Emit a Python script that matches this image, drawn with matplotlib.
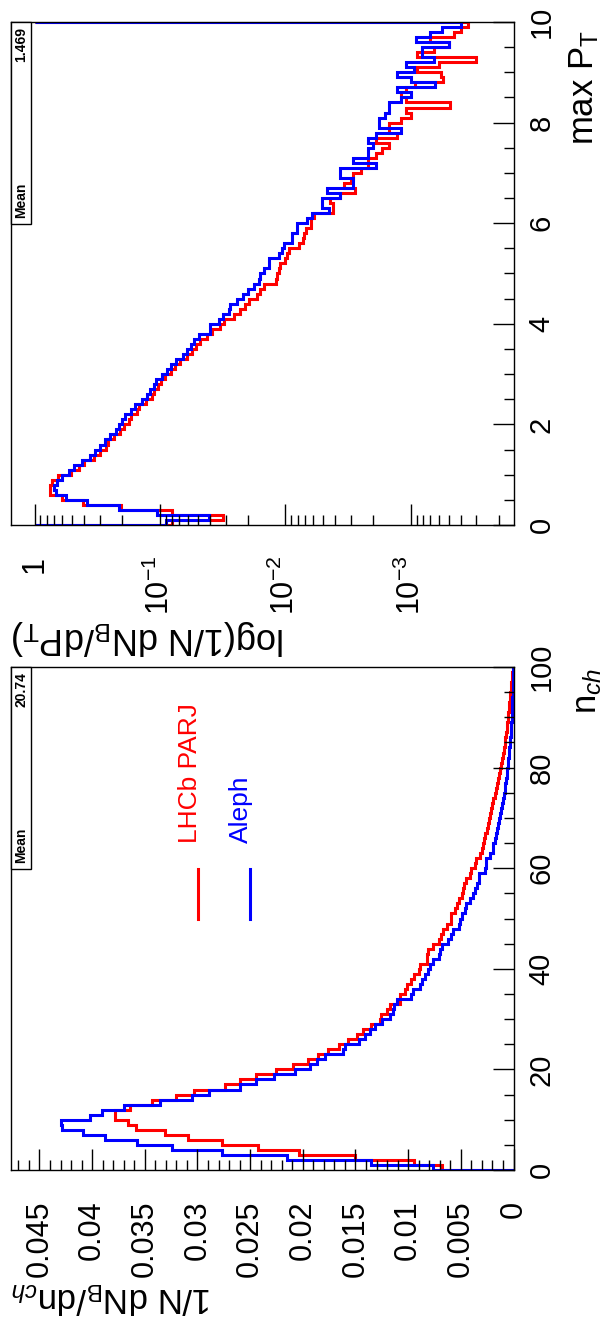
import numpy as np
import matplotlib.pyplot as plt
from matplotlib.patches import Rectangle
from matplotlib.ticker import FixedLocator, MultipleLocator, LogLocator, NullFormatter

plt.rcParams['font.family'] = ['Liberation Sans', 'DejaVu Sans']
plt.rcParams['mathtext.fontset'] = 'custom'
plt.rcParams['mathtext.rm'] = 'Liberation Sans'
plt.rcParams['mathtext.it'] = 'Liberation Sans:italic'

# charged multiplicity, bins of width 1 from 0 to 100
nch_edges = np.arange(0, 101)
nch_lhcb = [0.0068, 0.0094, 0.0150, 0.0204, 0.0243, 0.0277, 0.0309, 0.0331, 0.0358, 0.0366,
            0.0378, 0.0378, 0.0364, 0.0343, 0.0320, 0.0303, 0.0274, 0.0260, 0.0244, 0.0225,
            0.0209, 0.0195, 0.0186, 0.0176, 0.0166, 0.0157, 0.0149, 0.0143, 0.0135, 0.0127,
            0.0126, 0.0120, 0.0117, 0.0108, 0.0108, 0.0103, 0.0101, 0.0097, 0.0094, 0.0090,
            0.0089, 0.0082, 0.0082, 0.0081, 0.0076, 0.0071, 0.0069, 0.0067, 0.0063, 0.0059,
            0.0059, 0.0056, 0.0054, 0.0052, 0.0049, 0.0048, 0.0047, 0.0045, 0.0041, 0.0040,
            0.0037, 0.0036, 0.0032, 0.0030, 0.0029, 0.0028, 0.0027, 0.0025, 0.0024, 0.0023,
            0.0022, 0.0021, 0.0020, 0.0019, 0.0018, 0.0017, 0.0016, 0.0015, 0.0014, 0.0013,
            0.0012, 0.0011, 0.0010, 0.0009, 0.00085, 0.0008, 0.0007, 0.00065, 0.0006, 0.00055,
            0.0005, 0.00045, 0.0004, 0.00035, 0.0003, 0.00025, 0.0002, 0.00015, 0.0001, 0.00008]
nch_aleph = [0.0076, 0.0135, 0.0215, 0.0277, 0.0324, 0.0357, 0.0388, 0.0409, 0.0429, 0.0430,
             0.0402, 0.0391, 0.0370, 0.0336, 0.0305, 0.0289, 0.0260, 0.0244, 0.0227, 0.0207,
             0.0193, 0.0187, 0.0179, 0.0162, 0.0160, 0.0147, 0.0141, 0.0136, 0.0131, 0.0125,
             0.0117, 0.0114, 0.0113, 0.0111, 0.0097, 0.0095, 0.0089, 0.0087, 0.0084, 0.0081,
             0.0079, 0.0076, 0.0071, 0.0070, 0.0068, 0.0062, 0.0059, 0.0057, 0.0052, 0.0051,
             0.0049, 0.0046, 0.0045, 0.0041, 0.0038, 0.0037, 0.0035, 0.0033, 0.0033, 0.0027,
             0.0026, 0.0026, 0.0022, 0.0019, 0.0019, 0.0018, 0.0017, 0.0016, 0.0015, 0.0014,
             0.0013, 0.0012, 0.0011, 0.0010, 0.0009, 0.00085, 0.0008, 0.0007, 0.00065, 0.0006,
             0.00055, 0.0005, 0.00045, 0.0004, 0.00035, 0.0003, 0.00028, 0.00025, 0.0002, 0.00018,
             0.00015, 0.00013, 0.00011, 0.0001, 0.00008, 0.00007, 0.00006, 0.00005, 0.00004, 0.00003]

# max pT, bins of width 0.1 from 0 to 10
pt_edges = np.linspace(0, 10, 101)
pt_lhcb = [0.080, 0.0314, 0.080, 0.204, 0.409, 0.602, 0.746, 0.759, 0.723, 0.652,
           0.510, 0.443, 0.400, 0.337, 0.302, 0.267, 0.261, 0.231, 0.209, 0.192,
           0.177, 0.170, 0.152, 0.147, 0.129, 0.115, 0.111, 0.104, 0.098, 0.0904,
           0.0824, 0.0753, 0.0687, 0.0608, 0.0554, 0.0512, 0.0476, 0.0421, 0.0384, 0.0330,
           0.0306, 0.0258, 0.0231, 0.0211, 0.0196, 0.0170, 0.0158, 0.0149, 0.0118, 0.0116,
           0.0113, 0.0110, 0.0100, 0.0098, 0.0094, 0.0078, 0.0073, 0.0071, 0.0069, 0.0063,
           0.0062, 0.0059, 0.0042, 0.0042, 0.0044, 0.0037, 0.0028, 0.0034, 0.0030, 0.0029,
           0.0025, 0.0022, 0.0022, 0.0019, 0.0017, 0.0015, 0.0019, 0.0013, 0.0015, 0.0015,
           0.0012, 0.0010, 0.0011, 0.00049, 0.0011, 0.0012, 0.0011, 0.00092, 0.00055, 0.00058,
           0.00089, 0.0006, 0.0003, 0.00089, 0.00066, 0.0005, 0.00071, 0.00045, 0.0004, 0.00035]
pt_aleph = [0.089, 0.041, 0.105, 0.213, 0.385, 0.560, 0.680, 0.700, 0.668, 0.609,
            0.533, 0.486, 0.417, 0.362, 0.327, 0.298, 0.272, 0.248, 0.226, 0.213,
            0.200, 0.191, 0.170, 0.157, 0.139, 0.126, 0.121, 0.111, 0.107, 0.096,
            0.0877, 0.0824, 0.0743, 0.0653, 0.0608, 0.0561, 0.0531, 0.0491, 0.0396, 0.0396,
            0.0340, 0.0314, 0.0283, 0.0278, 0.0243, 0.0217, 0.0200, 0.0179, 0.0163, 0.0158,
            0.0149, 0.0136, 0.0136, 0.0113, 0.0106, 0.0103, 0.0089, 0.0089, 0.0081, 0.0081,
            0.0067, 0.0061, 0.0045, 0.0051, 0.0051, 0.0037, 0.0047, 0.0029, 0.0029, 0.0037,
            0.0037, 0.0019, 0.0029, 0.0022, 0.0022, 0.0020, 0.0022, 0.0019, 0.0012, 0.0018,
            0.0018, 0.0016, 0.0015, 0.0015, 0.0012, 0.0010, 0.0013, 0.00064, 0.0010, 0.0013,
            0.00094, 0.0011, 0.00066, 0.00081, 0.00081, 0.0005, 0.00091, 0.00071, 0.00056, 0.0004]

val_ticks = [0, 0.005, 0.01, 0.015, 0.02, 0.025, 0.03, 0.035, 0.04, 0.045]
val_labels = ['0', '0.005', '0.01', '0.015', '0.02', '0.025', '0.03', '0.035', '0.04', '0.045']
log_ticks = [1, 0.1, 0.01, 0.001]
log_labels = ['1', r'$10^{-1}$', r'$10^{-2}$', r'$10^{-3}$']

W, H = 608, 1323
fig = plt.figure(figsize=(W / 100, H / 100), dpi=100)


def px_axes(x0, y0, x1, y1):
    return fig.add_axes([x0 / W, 1 - y1 / H, (x1 - x0) / W, (y1 - y0) / H])


def style(ax):
    # the picture is a ROOT canvas turned on its side: values run right-to-left
    ax.xaxis.tick_bottom()
    ax.yaxis.tick_right()
    ax.tick_params(which='both', direction='in', color='black', width=1)
    ax.tick_params(which='major', length=15)
    ax.tick_params(which='minor', length=7.5)
    ax.tick_params(axis='x', labelsize=22, pad=22, labelrotation=90)
    ax.tick_params(axis='y', labelsize=21, pad=10, labelrotation=90)
    for lab in ax.get_yticklabels():
        lab.set_va('center')
    for sp in ax.spines.values():
        sp.set_linewidth(1)


def stats_box(y0, value):
    fig.add_artist(Rectangle((11 / W, 1 - (y0 + 202) / H), 20 / W, 202 / H,
                             transform=fig.transFigure, facecolor='white',
                             edgecolor='black', lw=1, zorder=5))
    fig.text(21 / W, 1 - (y0 + 196) / H, 'Mean', rotation=90, ha='center', va='bottom',
             fontsize=10, fontweight='bold', zorder=6)
    fig.text(21 / W, 1 - (y0 + 5) / H, value, rotation=90, ha='center', va='top',
             fontsize=10, fontweight='bold', zorder=6)


# ---- max pT panel (top) ----
ax_pt = px_axes(11, 22, 513.5, 525)
ax_pt.stairs(pt_lhcb, pt_edges, orientation='horizontal', baseline=1, color='red', lw=2.2)
ax_pt.stairs(pt_aleph, pt_edges, orientation='horizontal', baseline=1, color='blue', lw=2.2)
ax_pt.set_xscale('log')
ax_pt.set_xlim(1.54, 1.52e-4)
ax_pt.set_ylim(0, 10)
ax_pt.xaxis.set_major_locator(FixedLocator(log_ticks))
ax_pt.set_xticklabels(log_labels)
ax_pt.xaxis.set_minor_locator(LogLocator(base=10, subs=np.arange(2, 10)))
ax_pt.xaxis.set_minor_formatter(NullFormatter())
ax_pt.set_yticks([0, 2, 4, 6, 8, 10])
ax_pt.set_yticklabels(['0', '2', '4', '6', '8', '10'])
ax_pt.yaxis.set_minor_locator(MultipleLocator(0.5))
style(ax_pt)

# ---- n_ch panel (bottom) ----
ax_n = px_axes(11, 667, 513.5, 1170)
ax_n.stairs(nch_lhcb, nch_edges, orientation='horizontal', color='red', lw=2.2)
ax_n.stairs(nch_aleph, nch_edges, orientation='horizontal', color='blue', lw=2.2)
ax_n.set_xlim(0.0477, 0)
ax_n.set_ylim(0, 100)
ax_n.set_xticks(val_ticks)
ax_n.set_xticklabels(val_labels)
ax_n.xaxis.set_minor_locator(MultipleLocator(0.001))
ax_n.set_yticks([0, 20, 40, 60, 80, 100])
ax_n.set_yticklabels(['0', '20', '40', '60', '80', '100'])
ax_n.yaxis.set_minor_locator(MultipleLocator(5))
style(ax_n)

stats_box(22, '1.469')
stats_box(667, '20.74')

# legend
fig.add_artist(plt.Line2D([198 / W, 198 / W], [1 - 919 / H, 1 - 869 / H], color='red', lw=2.2))
fig.add_artist(plt.Line2D([250 / W, 250 / W], [1 - 919 / H, 1 - 869 / H], color='blue', lw=2.2))
fig.text(190 / W, 1 - 843 / H, 'LHCb PARJ', color='red', rotation=90, ha='center', va='bottom', fontsize=19)
fig.text(241 / W, 1 - 843 / H, 'Aleph', color='blue', rotation=90, ha='center', va='bottom', fontsize=19)

# axis titles
fig.text(588 / W, 1 - 668 / H, r'n$_{ch}$', rotation=90, ha='center', va='top', fontsize=25)
fig.text(584 / W, 1 - 30 / H, r'max P$_\mathrm{T}$', rotation=90, ha='center', va='top', fontsize=25)
fig.text(11 / W, 1 - 1298 / H, r'1/N dN$_\mathrm{B}$/dn$_{ch}$', rotation=180, ha='left', va='center', fontsize=25)
fig.text(11 / W, 1 - 638 / H, r'log(1/N dN$_\mathrm{B}$/dP$_\mathrm{T}$)', rotation=180, ha='left', va='center', fontsize=26)

fig.savefig('out.png', dpi=100)
